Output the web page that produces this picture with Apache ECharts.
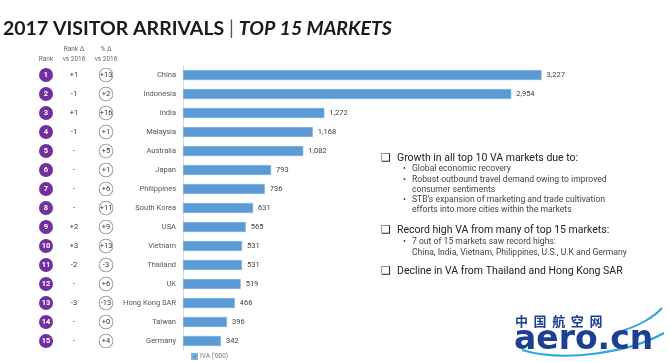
<!DOCTYPE html>
<html><head><meta charset="utf-8">
<script src="https://cdn.jsdelivr.net/npm/echarts@6/dist/echarts.min.js"></script>
<style>html,body{margin:0;padding:0;background:#fff}#c{width:670px;height:362px}</style>
</head><body><div id="c"></div>
<script>
const markets = ['China','Indonesia','India','Malaysia','Australia','Japan','Philippines','South Korea','USA','Vietnam','Thailand','UK','Hong Kong SAR','Taiwan','Germany'];
const arrivals = [3227,2954,1272,1168,1082,793,736,631,565,531,531,519,466,396,342];
const ranks = ['1','2','3','4','5','6','7','8','9','10','11','12','13','14','15'];
const rankChange = ['+1','-1','+1','-1','-','-','-','-','+2','+3','-2','-','-3','-','-'];
const pctChange = ['+13','+2','+16','+1','+5','+1','+6','+11','+9','+13','-3','+6','-13','+0','+4'];
const seriesName = "IVA ('000)";

const F = 'Roboto, "Noto Sans", sans-serif';
const chart = echarts.init(document.getElementById('c'), null, {renderer: 'canvas'});

function extraAxis(data, offset, label) {
  return {
    type: 'category', data: data, inverse: true, position: 'left', offset: offset,
    axisLine: {show: false}, axisTick: {show: false}, splitLine: {show: false},
    axisLabel: Object.assign({margin: 0, align: 'center', verticalAlign: 'middle', fontFamily: F, fontSize: 7.5}, label)
  };
}

const bulletMain = {fontFamily: F, fontSize: 10.5, fill: '#222'};
const bulletSub = {fontFamily: F, fontSize: 8.6, fill: '#444'};
const box = {fontFamily: '"DejaVu Sans"', fontSize: 11, fill: '#222'};
function t(x, y, text, style, extra) {
  return Object.assign({type: 'text', x: x, y: y, style: Object.assign({text: text, verticalAlign: 'middle'}, style)}, extra || {});
}

const graphics = [
  t(46, 59, 'Rank', {fontFamily: F, fontSize: 6.5, fill: '#666', align: 'center'}),
  t(74, 49, 'Rank Δ', {fontFamily: F, fontSize: 6.5, fill: '#666', align: 'center'}),
  t(74, 59, 'vs 2016', {fontFamily: F, fontSize: 6.5, fill: '#666', align: 'center'}),
  t(106, 49, '% Δ', {fontFamily: F, fontSize: 6.5, fill: '#666', align: 'center'}),
  t(106, 59, 'vs 2016', {fontFamily: F, fontSize: 6.5, fill: '#666', align: 'center'}),

  t(381, 158, '❑', box),
  t(397, 158, 'Growth in all top 10 VA markets due to:', bulletMain),
  t(403, 169, '•', bulletSub), t(412, 169, 'Global economic recovery', bulletSub),
  t(403, 180, '•', bulletSub), t(412, 180, 'Robust outbound travel demand owing to improved', bulletSub),
  t(412, 190, 'consumer sentiments', bulletSub),
  t(403, 200, '•', bulletSub), t(412, 200, 'STB\u2019s expansion of marketing and trade cultivation', bulletSub),
  t(412, 210, 'efforts into more cities within the markets', bulletSub),

  t(381, 230, '❑', box),
  t(397, 230, 'Record high VA from many of top 15 markets:', bulletMain),
  t(403, 242, '•', bulletSub), t(412, 242, '7 out of 15 markets saw record highs:', bulletSub),
  t(412, 253, 'China, India, Vietnam, Philippines, U.S., U.K and Germany', bulletSub),

  t(381, 271, '❑', box),
  t(397, 271, 'Decline in VA from Thailand and Hong Kong SAR', bulletMain),

  // watermark logo
  {type: 'bezierCurve', shape: {x1: 522, y1: 350, x2: 664, y2: 333, cpx1: 565, cpy1: 363, cpx2: 630, cpy2: 352}, style: {stroke: '#2aa7e0', lineWidth: 2.2, fill: null}},
  {type: 'bezierCurve', shape: {x1: 618, y1: 332, x2: 662, y2: 308, cpx1: 640, cpy1: 326, cpx2: 655, cpy2: 316}, style: {stroke: '#2aa7e0', lineWidth: 2, fill: null}},
  {type: 'text', x: 515, y: 321, style: {
    text: '{c|中}{c|国}{c|航}{c|空}{c|网}', verticalAlign: 'middle',
    rich: {c: {fontFamily: '"Noto Sans CJK SC"', fontSize: 13, fontWeight: 'bold', fill: '#1d3f92', width: 18.6, align: 'left'}}
  }},
  t(514, 340, 'aero.cn', {fontFamily: '"DejaVu Sans"', fontSize: 33, fontWeight: 'bold', fill: '#1d3f92'})
];

chart.setOption({
  animation: false,
  backgroundColor: '#fff',
  title: {
    left: 3, top: 19, padding: 0,
    text: '{a|2017 VISITOR ARRIVALS }{s|| }{b|TOP 15 MARKETS}',
    textStyle: {
      rich: {
        a: {fontFamily: 'Lato, sans-serif', fontWeight: 'bold', fontSize: 19.5, color: '#1a1a1a'},
        s: {fontFamily: 'Lato, sans-serif', fontWeight: 'normal', fontSize: 19.5, color: '#555'},
        b: {fontFamily: 'Lato, sans-serif', fontWeight: 'bold', fontStyle: 'italic', fontSize: 19.5, color: '#1a1a1a'}
      }
    }
  },
  legend: {
    left: 186, top: 348, itemWidth: 5, itemHeight: 5, itemGap: 4,
    icon: 'rect',
    textStyle: {fontFamily: F, fontSize: 6.5, color: '#777', padding: [0, 0, 0, -2]},
    data: [seriesName]
  },
  grid: {left: 183, top: 65.5, width: 400, height: 285, containLabel: false},
  xAxis: {type: 'value', min: 0, max: 3600, show: false},
  yAxis: [
    {
      type: 'category', data: markets, inverse: true, position: 'left',
      axisLine: {show: true, lineStyle: {color: '#d9d9d9', width: 1}},
      axisTick: {show: false},
      axisLabel: {margin: 7, fontFamily: F, fontSize: 7.5, color: '#555'}
    },
    extraAxis(pctChange, 77, {color: '#333', backgroundColor: '#fff', borderColor: '#8c8c8c', borderWidth: 0.8, borderRadius: 7, width: 13, height: 13, lineHeight: 13}),
    extraAxis(rankChange, 109, {color: '#333'}),
    extraAxis(ranks, 137, {color: '#fff', fontWeight: 'bold', backgroundColor: '#7030a0', borderRadius: 7, width: 14, height: 14, lineHeight: 14})
  ],
  series: [{
    name: seriesName, type: 'bar', data: arrivals, yAxisIndex: 0,
    barWidth: 10,
    itemStyle: {color: '#5b9bd5', borderColor: '#7fb2e3', borderWidth: 0.6},
    label: {show: true, position: 'right', distance: 5, fontFamily: F, fontSize: 7.5, color: '#404040',
      formatter: p => p.value.toLocaleString('en-US')}
  }],
  graphic: graphics
});
</script>
</body></html>
